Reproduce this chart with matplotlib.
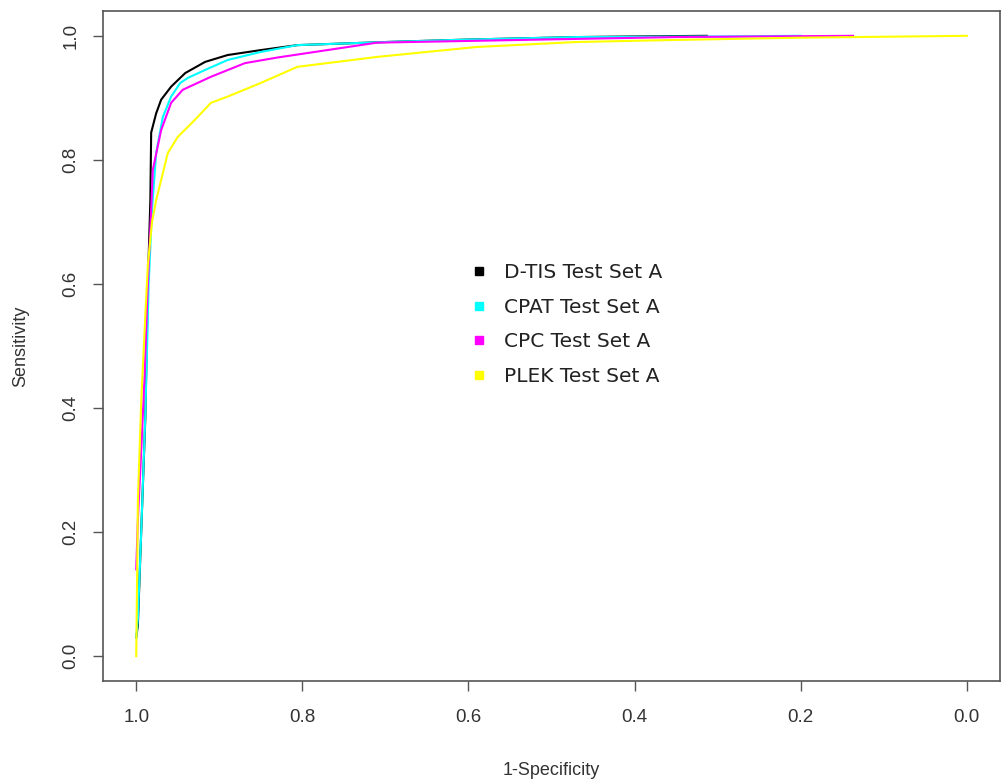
import matplotlib
matplotlib.use("Agg")
import matplotlib.pyplot as plt

# Specificity (x, axis reversed) and sensitivity (y)
dtis_spec = [1.0, 0.998, 0.994, 0.989, 0.986, 0.983, 0.982, 0.976, 0.970, 0.958, 0.941, 0.917,
             0.890, 0.850, 0.806, 0.700, 0.600, 0.470, 0.400, 0.313]
dtis_sens = [0.03, 0.05, 0.20, 0.385, 0.60, 0.735, 0.844, 0.875, 0.897, 0.918, 0.940, 0.958,
             0.969, 0.977, 0.985, 0.990, 0.994, 0.998, 0.999, 1.0]

cpat_spec = [1.0, 0.998, 0.994, 0.989, 0.985, 0.981, 0.976, 0.968, 0.958, 0.947, 0.938, 0.917,
             0.890, 0.850, 0.806, 0.700, 0.600, 0.470, 0.300, 0.200]
cpat_sens = [0.03, 0.06, 0.20, 0.39, 0.60, 0.72, 0.811, 0.869, 0.902, 0.924, 0.932, 0.945,
             0.961, 0.974, 0.985, 0.990, 0.994, 0.998, 0.999, 1.0]

cpc_spec = [1.0, 0.998, 0.994, 0.990, 0.986, 0.982, 0.980, 0.970, 0.958, 0.944, 0.910, 0.869,
            0.830, 0.710, 0.470, 0.350, 0.137]
cpc_sens = [0.14, 0.22, 0.33, 0.45, 0.60, 0.72, 0.784, 0.848, 0.892, 0.913, 0.934, 0.956,
            0.965, 0.989, 0.995, 0.998, 1.0]

plek_spec = [1.0, 0.999, 0.998, 0.994, 0.989, 0.986, 0.981, 0.976, 0.962, 0.950, 0.929, 0.910,
             0.890, 0.850, 0.806, 0.710, 0.590, 0.470, 0.363, 0.200, 0.0]
plek_sens = [0.0, 0.12, 0.25, 0.41, 0.55, 0.63, 0.70, 0.735, 0.811, 0.837, 0.865, 0.892,
             0.902, 0.924, 0.950, 0.966, 0.982, 0.990, 0.993, 0.997, 1.0]

labels = ["D-TIS Test Set A", "CPAT Test Set A", "CPC Test Set A", "PLEK Test Set A"]
colors = ["black", "#00FFFF", "#FF00FF", "#FFFF00"]
ticks = [0.0, 0.2, 0.4, 0.6, 0.8, 1.0]
tick_labels = ["0.0", "0.2", "0.4", "0.6", "0.8", "1.0"]

sans = ["Liberation Sans", "DejaVu Sans"]

fig = plt.figure(figsize=(10.02, 7.8), dpi=100)
ax = fig.add_axes([103 / 1002, 1 - 681 / 780, (1000 - 103) / 1002, (681 - 11) / 780])

series = [(dtis_spec, dtis_sens), (cpat_spec, cpat_sens), (cpc_spec, cpc_sens), (plek_spec, plek_sens)]
for (sx, sy), c, lab in zip(series, colors, labels):
    ax.plot(sx, sy, color=c, lw=1.5, label=lab)

ax.set_xlim(1.04, -0.04)
ax.set_ylim(-0.04, 1.04)
ax.set_xticks(ticks)
ax.set_xticklabels(tick_labels, fontsize=13.5, family=sans, color="#333333")
ax.set_yticks(ticks)
ax.set_yticklabels(tick_labels, fontsize=13.5, family=sans, rotation=90, va="center",
                   color="#333333")
ax.tick_params(axis="x", direction="out", length=7, width=1, color="#555555", pad=13)
ax.tick_params(axis="y", direction="out", length=7, width=1, color="#555555", pad=10)
for sp in ax.spines.values():
    sp.set_color("#555555")
    sp.set_linewidth(1.2)

ax.set_xlabel("1-Specificity", fontsize=13, family=sans, color="#333333", labelpad=26)
ax.set_ylabel("Sensitivity", fontsize=13, family=sans, color="#333333", labelpad=24)

handles = [plt.Line2D([], [], ls="none", marker="s", ms=6, color=c) for c in colors]
leg = ax.legend(handles, labels, loc="center left", bbox_to_anchor=(0.388, 0.532),
                frameon=False, handlelength=1.0, handletextpad=0.75,
                labelspacing=0.78, prop={"family": "DejaVu Sans", "size": 14.5})
for t in leg.get_texts():
    t.set_color("#222222")

fig.savefig("out.png", dpi=100, facecolor="white")
